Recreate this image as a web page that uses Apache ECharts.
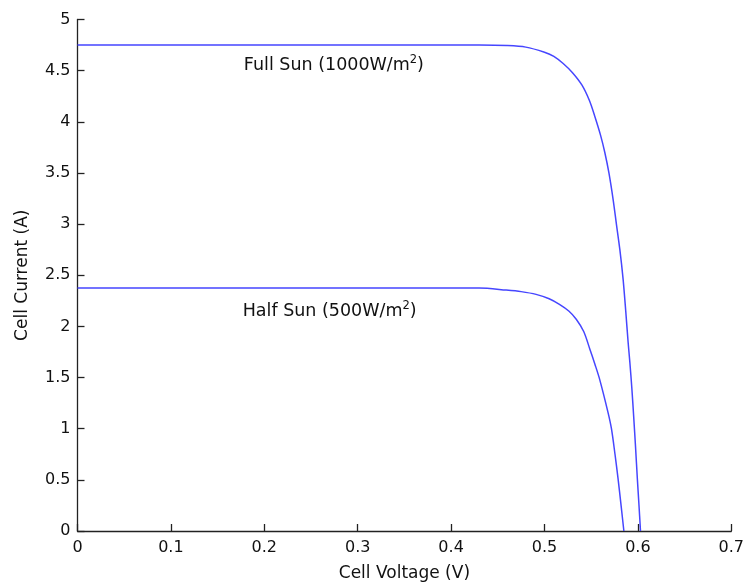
<!DOCTYPE html>
<html>
<head>
<meta charset="utf-8">
<script src="https://cdn.jsdelivr.net/npm/echarts@6/dist/echarts.min.js"></script>
<style>html,body{margin:0;padding:0;background:#fff;}#c{width:747px;height:587px;}</style>
</head>
<body>
<div id="c"></div>
<script>
// Full sun (1000 W/m^2) I-V curve: voltage (V), current (A)
var fullV = [0, 0.1, 0.2, 0.3, 0.4, 0.43, 0.46, 0.48, 0.50, 0.51, 0.52, 0.53, 0.54, 0.548, 0.554, 0.56, 0.5646, 0.569, 0.5735, 0.577, 0.5807, 0.5842, 0.587, 0.5895, 0.5914, 0.5935, 0.5955, 0.5975, 0.5995, 0.6012, 0.6028];
var fullI = [4.75, 4.75, 4.75, 4.75, 4.75, 4.75, 4.745, 4.73, 4.68, 4.64, 4.57, 4.48, 4.36, 4.21, 4.05, 3.87, 3.70, 3.50, 3.24, 3.0, 2.75, 2.46, 2.15, 1.85, 1.65, 1.40, 1.12, 0.82, 0.5, 0.25, 0];
// Half sun (500 W/m^2)
var halfV = [0, 0.1, 0.2, 0.3, 0.4, 0.43, 0.459, 0.475, 0.491, 0.505, 0.516, 0.526, 0.534, 0.542, 0.5485, 0.554, 0.559, 0.568, 0.5717, 0.5755, 0.5788, 0.582, 0.585];
var halfI = [2.375, 2.375, 2.375, 2.375, 2.375, 2.375, 2.355, 2.34, 2.313, 2.27, 2.215, 2.15, 2.07, 1.95, 1.78, 1.63, 1.485, 1.16, 1.0, 0.75, 0.51, 0.25, 0];
var xTicks = {min: 0, max: 0.7, step: 0.1};
var yTicks = {min: 0, max: 5, step: 0.5};
var fullLabel = {text: 'Full Sun (1000W/m', sup: '2', at: [0.2745, 4.552]};
var halfLabel = {text: 'Half Sun (500W/m', sup: '2', at: [0.270, 2.147]};

function zip(a, b) { return a.map(function (v, i) { return [v, b[i]]; }); }

var FONT = 'DejaVu Sans';
var lineColor = '#4646ff';
function annot(lbl) {
  return {
    symbol: 'circle', symbolSize: 0, silent: true,
    data: [{ coord: lbl.at, value: 0 }],
    label: {
      show: true, position: 'inside',
      formatter: '{a|' + lbl.text + '}{s|' + lbl.sup + '}{a|)}',
      rich: {
        a: { fontFamily: FONT, fontSize: 17.5, color: '#111', lineHeight: 22 },
        s: { fontFamily: FONT, fontSize: 11.5, color: '#111', padding: [0, 0, 10, 0], lineHeight: 22 }
      }
    }
  };
}

var chart = echarts.init(document.getElementById('c'), null, {renderer: 'canvas'});
chart.setOption({
  animation: false,
  backgroundColor: '#fff',
  grid: { left: 77.5, right: 15.5, top: 19.5, bottom: 54.5, containLabel: false },
  xAxis: {
    type: 'value', min: xTicks.min, max: xTicks.max, interval: xTicks.step,
    name: 'Cell Voltage (V)', nameLocation: 'middle', nameGap: 34,
    nameTextStyle: { fontFamily: FONT, fontSize: 17, color: '#111' },
    axisLine: { show: true, lineStyle: { color: '#222', width: 1.3 } },
    axisTick: { show: true, inside: true, length: 7, lineStyle: { color: '#222', width: 1.3 } },
    axisLabel: { fontFamily: FONT, fontSize: 16, color: '#111', margin: 9 },
    splitLine: { show: false }
  },
  yAxis: {
    type: 'value', min: yTicks.min, max: yTicks.max, interval: yTicks.step,
    name: 'Cell Current (A)', nameLocation: 'middle', nameGap: 46,
    nameTextStyle: { fontFamily: FONT, fontSize: 17, color: '#111' },
    axisLine: { show: true, lineStyle: { color: '#222', width: 1.3 } },
    axisTick: { show: true, inside: true, length: 7, lineStyle: { color: '#222', width: 1.3 } },
    axisLabel: { fontFamily: FONT, fontSize: 16, color: '#111', margin: 7 },
    splitLine: { show: false }
  },
  series: [
    { type: 'line', data: zip(fullV, fullI), showSymbol: false, smooth: 0.3,
      lineStyle: { color: lineColor, width: 1.5 }, markPoint: annot(fullLabel) },
    { type: 'line', data: zip(halfV, halfI), showSymbol: false, smooth: 0.3,
      lineStyle: { color: lineColor, width: 1.5 }, markPoint: annot(halfLabel) }
  ]
});
</script>
</body>
</html>
